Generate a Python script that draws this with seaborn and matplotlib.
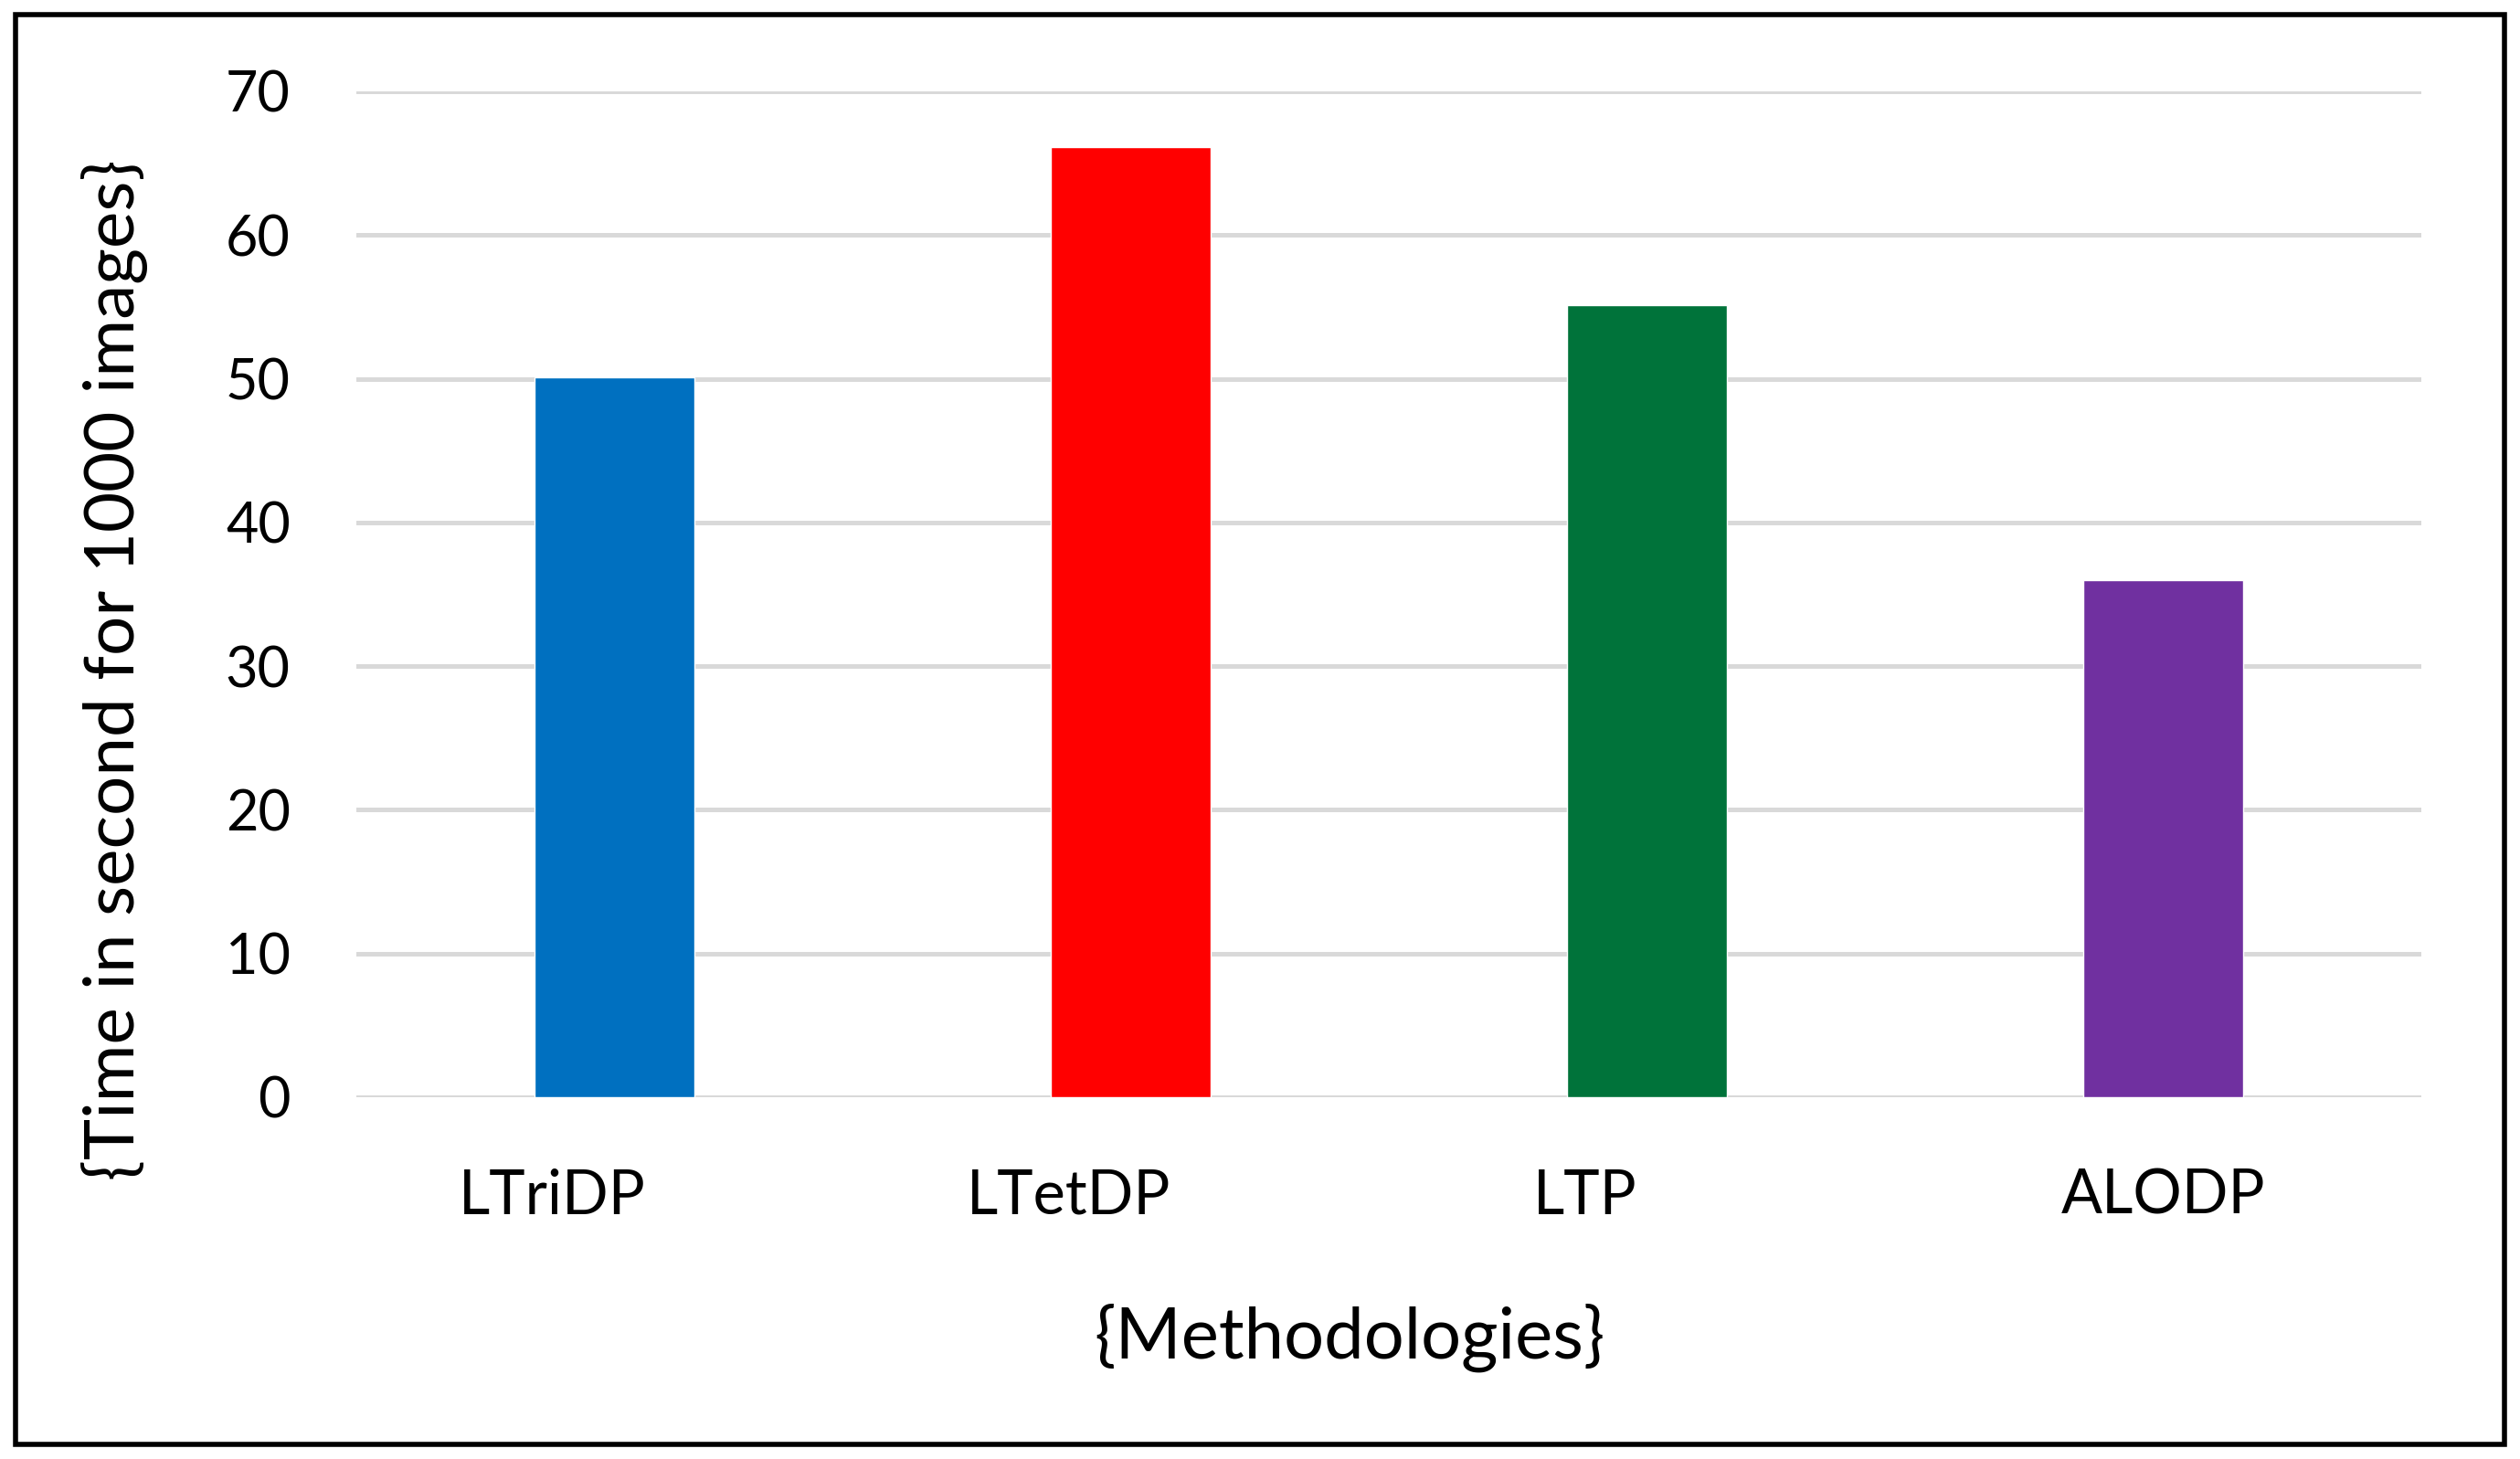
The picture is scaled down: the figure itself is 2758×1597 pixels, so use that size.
import matplotlib.pyplot as plt
from matplotlib.patches import Rectangle
from matplotlib.transforms import ScaledTranslation
import pandas as pd
import seaborn as sns

methods = ['LTriDP', 'LTetDP', 'LTP', 'ALODP']
times = [50.1, 66.1, 55.1, 36.0]
colours = ['#0070C0', '#FF0000', '#00733A', '#7030A0']
y_ticks = [0, 10, 20, 30, 40, 50, 60, 70]

df = pd.DataFrame({'method': methods, 'time': times})

sns.set_theme(style='white')
plt.rcParams['font.family'] = ['Lato', 'DejaVu Sans']
plt.rcParams['text.color'] = 'black'
plt.rcParams['xtick.color'] = 'black'
plt.rcParams['ytick.color'] = 'black'
plt.rcParams['axes.labelcolor'] = 'black'

fig = plt.figure(figsize=(27.58, 15.97), dpi=100)
ax = fig.add_axes([0.1414, 0.248, 0.8196, 0.6894])

sns.barplot(data=df, x='method', y='time', hue='method', palette=colours,
            width=0.31, legend=False, ax=ax, saturation=1)

ax.set_xlim(-0.5, 3.5)
ax.set_ylim(0, 70)
ax.set_yticks(y_ticks)
ax.yaxis.grid(True, color='#d9d9d9', linewidth=3.6)
ax.set_axisbelow(True)
for s in ax.spines.values():
    s.set_visible(False)
ax.tick_params(axis='y', length=0, pad=52, labelsize=44)
ax.tick_params(axis='x', length=0, pad=56, labelsize=48)

# the first three category labels sit a little left of their bars
for lab in ax.get_xticklabels()[:3]:
    lab.set_transform(lab.get_transform() + ScaledTranslation(-0.68, 0, fig.dpi_scale_trans))

ax.set_xlabel('{Methodologies}', fontsize=56)
ax.set_ylabel('{Time in second for 1000 images}', fontsize=55)
ax.xaxis.set_label_coords(0.481, -0.205)
ax.yaxis.set_label_coords(-0.101, 0.425)

fig.add_artist(Rectangle((0.006, 0.01), 0.988, 0.98, transform=fig.transFigure,
                         fill=False, edgecolor='black', linewidth=4))

fig.savefig('out.png', dpi=100)
